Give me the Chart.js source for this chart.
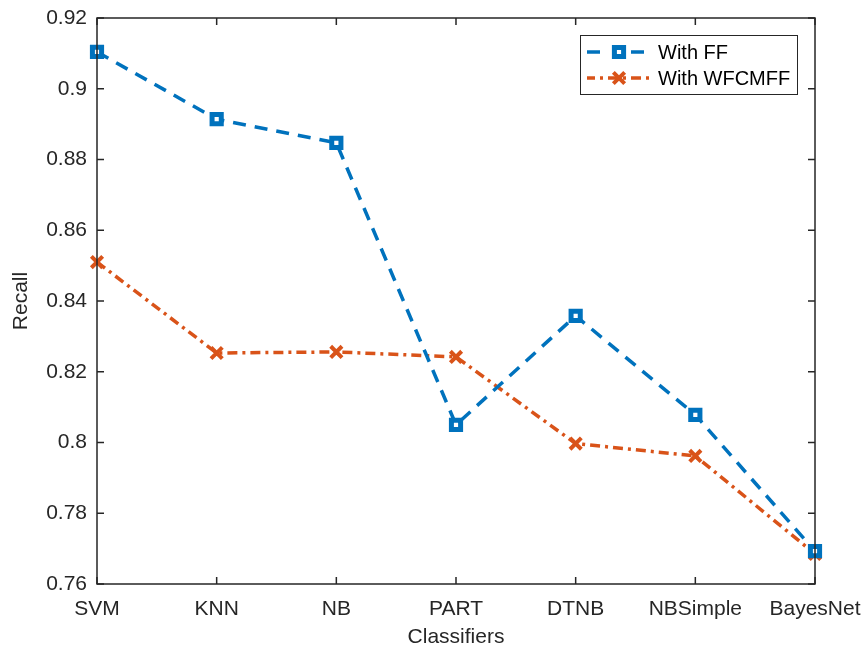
<!DOCTYPE html>
<html lang="en">
<head>
  <meta charset="UTF-8" />
  <title>Recall by classifier</title>
  <style>
    html, body { margin: 0; padding: 0; background: #fff; }
    #wrap { width: 866px; height: 650px; }
  </style>
</head>
<body>
  <div id="wrap"><canvas id="recall-chart" width="866" height="650"></canvas></div>

  <script src="https://cdn.jsdelivr.net/npm/chart.js"></script>
  <script>
    const classifiers = ['SVM', 'KNN', 'NB', 'PART', 'DTNB', 'NBSimple', 'BayesNet'];
    const withFF = [0.9104, 0.8914, 0.8847, 0.8050, 0.8358, 0.8078, 0.7693];
    const withWFCMFF = [0.8510, 0.8253, 0.8256, 0.8242, 0.7997, 0.7962, 0.7685];
    const yTicks = [0.76, 0.78, 0.8, 0.82, 0.84, 0.86, 0.88, 0.9, 0.92];

    const BLUE = '#0072BD';
    const ORANGE = '#D95319';
    const AXIS = '#262626';
    const FONT = 'Arial, "Liberation Sans", Helvetica, sans-serif';

    // MATLAB-style box with inward ticks + legend
    const boxPlugin = {
      id: 'box',
      afterDraw(chart) {
        const ctx = chart.ctx;
        const a = chart.chartArea;
        const x = chart.scales.x, y = chart.scales.y;
        const len = 7;
        ctx.save();
        ctx.strokeStyle = AXIS;
        ctx.lineWidth = 1.5;
        ctx.setLineDash([]);
        ctx.strokeRect(a.left, a.top, a.right - a.left, a.bottom - a.top);
        ctx.beginPath();
        classifiers.forEach((c, i) => {
          const px = x.getPixelForValue(i);
          ctx.moveTo(px, a.bottom); ctx.lineTo(px, a.bottom - len);
          ctx.moveTo(px, a.top); ctx.lineTo(px, a.top + len);
        });
        yTicks.forEach(v => {
          const py = y.getPixelForValue(v);
          ctx.moveTo(a.left, py); ctx.lineTo(a.left + len, py);
          ctx.moveTo(a.right, py); ctx.lineTo(a.right - len, py);
        });
        ctx.stroke();

        // legend
        const lx = 580, ly = 35, lw = 217, lh = 59;
        ctx.fillStyle = '#fff';
        ctx.fillRect(lx, ly, lw, lh);
        ctx.lineWidth = 1;
        ctx.strokeStyle = AXIS;
        ctx.strokeRect(lx + 0.5, ly + 0.5, lw, lh);
        const rows = [52, 78];
        chart.data.datasets.forEach((ds, i) => {
          const ry = rows[i];
          ctx.strokeStyle = ds.borderColor;
          ctx.lineWidth = ds.borderWidth;
          ctx.setLineDash(ds.borderDash);
          ctx.lineDashOffset = i === 0 ? 0 : 2;
          ctx.beginPath();
          ctx.moveTo(587, ry); ctx.lineTo(652, ry);
          ctx.stroke();
          ctx.setLineDash([]);
          ctx.strokeStyle = ds.borderColor;
          ctx.lineWidth = ds.pointBorderWidth;
          if (ds.pointStyle === 'rect') {
            ctx.fillStyle = '#fff';
            ctx.fillRect(609, ry - 9, 20, 18);
          }
          ctx.fillStyle = ds.pointStyle === 'rect' ? '#fff' : ds.borderColor;
          Chart.helpers.drawPoint(ctx, {
            pointStyle: ds.pointStyle,
            radius: ds.pointRadius,
            borderWidth: ds.pointBorderWidth,
            rotation: 0
          }, 619, ry);
          ctx.fillStyle = '#000';
          ctx.font = '20px ' + FONT;
          ctx.textBaseline = 'middle';
          ctx.textAlign = 'left';
          ctx.fillText(ds.label, 658, ry + 1);
        });
        ctx.restore();
      }
    };

    new Chart(document.getElementById('recall-chart'), {
      type: 'line',
      data: {
        labels: classifiers,
        datasets: [
          {
            label: 'With FF',
            data: withFF,
            borderColor: BLUE,
            backgroundColor: '#fff',
            borderWidth: 3.5,
            borderDash: [13, 9],
            pointStyle: 'rect',
            pointRadius: 6.5,
            pointBorderWidth: 5,
            pointBackgroundColor: '#fff',
            pointBorderColor: BLUE,
            tension: 0
          },
          {
            label: 'With WFCMFF',
            data: withWFCMFF,
            borderColor: ORANGE,
            backgroundColor: ORANGE,
            borderWidth: 3.5,
            borderDash: [10, 5, 3, 5],
            pointStyle: 'crossRot',
            pointRadius: 8,
            pointBorderWidth: 4,
            pointBorderColor: ORANGE,
            tension: 0
          }
        ]
      },
      options: {
        responsive: false,
        animation: false,
        layout: { padding: { left: 0, top: 18, right: 51, bottom: 0 } },
        plugins: {
          legend: { display: false },
          tooltip: { enabled: false }
        },
        scales: {
          x: {
            offset: false,
            grid: { display: false, drawTicks: false },
            border: { display: false },
            ticks: { color: AXIS, font: { size: 21, family: FONT }, padding: 13, maxRotation: 0, autoSkip: false },
            title: { display: true, text: 'Classifiers', color: AXIS, font: { size: 21, family: FONT }, padding: { top: 0, bottom: 0 } },
            afterFit(s) {
              s.height = 66;
              s.paddingLeft = 0;
              s.paddingRight = 0;
            }
          },
          y: {
            min: yTicks[0],
            max: yTicks[yTicks.length - 1],
            grid: { display: false, drawTicks: false },
            border: { display: false },
            afterBuildTicks(s) { s.ticks = yTicks.map(v => ({ value: v })); },
            ticks: {
              color: AXIS,
              font: { size: 21, family: FONT },
              padding: 10,
              callback: v => String(Number(v.toFixed(2)))
            },
            title: { display: true, text: 'Recall', color: AXIS, font: { size: 21, family: FONT }, padding: { top: 9, bottom: 0 } },
            afterFit(s) {
              s.width = 97;
              s.paddingTop = 0;
              s.paddingBottom = 0;
            }
          }
        }
      },
      plugins: [boxPlugin]
    });
  </script>
</body>
</html>
